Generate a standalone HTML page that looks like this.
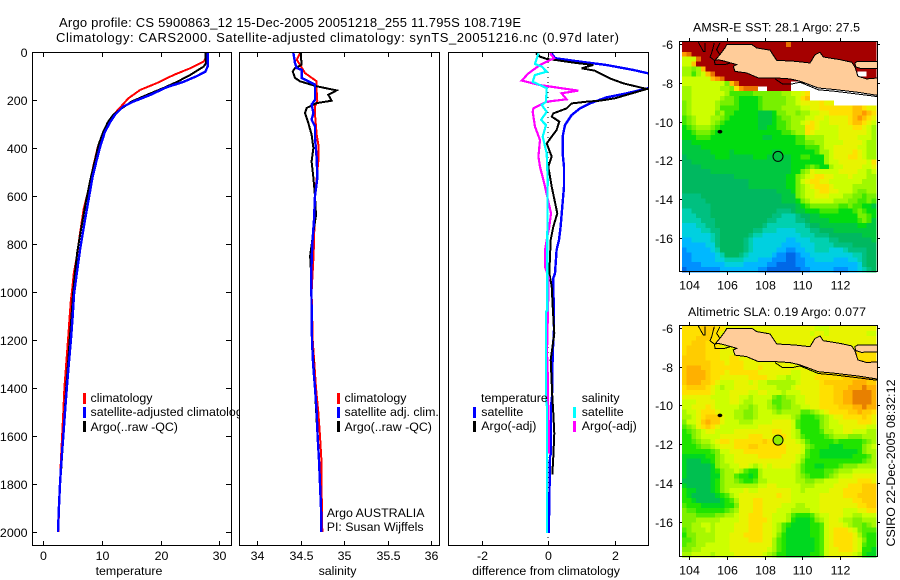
<!DOCTYPE html>
<html lang="en">
<head>
<meta charset="utf-8">
<title>Argo profile</title>
<style>
html,body{margin:0;padding:0;background:#fff;width:900px;height:580px;overflow:hidden}
svg{display:block}
text{font-family:"Liberation Sans",sans-serif;font-size:12.4px;fill:#000}
</style>
</head>
<body>
<svg id="chart" xmlns="http://www.w3.org/2000/svg" width="900" height="580" viewBox="0 0 900 580">
<defs>
<clipPath id="clip-p1"><rect x="32" y="52" width="200" height="494"/></clipPath>
<clipPath id="clip-p2"><rect x="239" y="52" width="201" height="494"/></clipPath>
<clipPath id="clip-p3"><rect x="448" y="52" width="201" height="494"/></clipPath>
<clipPath id="clip-m1"><rect x="680" y="42" width="197" height="230"/></clipPath>
<clipPath id="clip-m2"><rect x="680" y="326" width="197" height="231"/></clipPath>
</defs>
<rect width="900" height="580" fill="#fff"/>
<text x="59" y="27" style="font-size:13px" textLength="462">Argo profile: CS 5900863_12 15-Dec-2005 20051218_255 11.795S 108.719E</text>
<text x="56" y="42" style="font-size:13px" textLength="563">Climatology: CARS2000. Satellite-adjusted climatology: synTS_20051216.nc (0.97d later)</text>

<g id="p1">
<g id="p1-series" clip-path="url(#clip-p1)" shape-rendering="crispEdges"></g>
<g>
<rect x="83" y="393" width="3" height="11" fill="#f00"/>
<text x="90.5" y="402">climatology</text>
<rect x="83" y="407" width="3" height="11" fill="#00f"/>
<text x="90.5" y="416">satellite-adjusted climatology</text>
<rect x="83" y="421" width="3" height="11" fill="#000"/>
<text x="90.5" y="431">Argo(..raw -QC)</text>
</g>
</g>

<g id="p2">
<rect x="239" y="52" width="201" height="494" fill="#fff"/>
<g id="p2-series" clip-path="url(#clip-p2)" shape-rendering="crispEdges"></g>
<g>
<rect x="337" y="393" width="3" height="11" fill="#f00"/>
<text x="344.5" y="402">climatology</text>
<rect x="337" y="407" width="3" height="11" fill="#00f"/>
<text x="344.5" y="416">satellite adj. clim.</text>
<rect x="337" y="421" width="3" height="11" fill="#000"/>
<text x="344.5" y="431">Argo(..raw -QC)</text>
<text x="326.7" y="517">Argo AUSTRALIA</text>
<text x="326.7" y="531">PI: Susan Wijffels</text>
</g>
</g>

<g id="p3">
<g id="p3-series" clip-path="url(#clip-p3)" shape-rendering="crispEdges"></g>
<g>
<text x="481" y="402">temperature</text>
<rect x="473" y="407" width="3" height="11" fill="#00f"/>
<text x="481.3" y="416">satellite</text>
<rect x="473" y="421" width="3" height="11" fill="#000"/>
<text x="481.3" y="430">Argo(-adj)</text>
<text x="581.7" y="402">salinity</text>
<rect x="573" y="407" width="3" height="11" fill="#0ff"/>
<text x="581.7" y="416">satellite</text>
<rect x="573" y="421" width="3" height="11" fill="#f0f"/>
<text x="581.7" y="430">Argo(-adj)</text>
</g>
</g>

<g id="m1"></g>
<g id="m2"></g>
<text x="693" y="31.5" textLength="167">AMSR-E SST: 28.1 Argo: 27.5</text>
<text x="688" y="316" textLength="178">Altimetric SLA: 0.19 Argo: 0.077</text>
<text transform="translate(895,546.5) rotate(-90)" textLength="167">CSIRO 22-Dec-2005 08:32:12</text>
</svg>

<script>
// ---- axis ticks ----
const depthTicks = [0,200,400,600,800,1000,1200,1400,1600,1800,2000];
const tempTicks = [0,10,20,30];
const salTicks = [34,34.5,35,35.5,36];
const diffTicks = [-2,0,2];
const lonTicks = [104,106,108,110,112];
const latTicks = [-6,-8,-10,-12,-14,-16];

// ---- temperature profiles ----
const tempClimDepth = [0,25,40,68,96,130,158,193,228,255,297,353,394,478,575,651,756,853,922,992,1033,1100,1200,1300,1400,1500,1600,1700,1800,1900,2000];
const tempClimValue = [27.8,27.7,27.3,25,22.2,19.3,16.5,14.5,13.2,12.2,11.1,10,9.3,8.5,7.7,6.9,6.25,5.7,5.2,4.9,4.7,4.5,4.2,3.9,3.6,3.4,3.2,3,2.85,2.7,2.55];
const tempArgoDepth = [0,47,61,96,124,151,179,207,236,262,292,333,387,450,533,617,728,833,917,1000,1100,1200,1300,1400,1500,1600,1700,1760];
const tempArgoValue = [27.6,27.7,27.3,25,22.8,20.4,17.6,15,13.3,11.9,11,10.2,9.4,8.8,8,7.3,6.5,5.8,5.4,5.1,4.8,4.5,4.2,3.9,3.65,3.4,3.15,3];
const tempSatDepth = [0,60,82,100,124,147,179,207,228,262,292,333,394,450,519,617,714,825,922,1006,1100,1200,1300,1400,1500,1600,1700,1800,1900,2000];
const tempSatValue = [28,28,27.6,26.2,23.9,21,18.2,15.3,13.6,12.2,11.4,10.5,9.7,9.1,8.4,7.7,7,6.25,5.7,5.25,5,4.7,4.35,4,3.7,3.4,3.1,2.85,2.65,2.5];

// ---- salinity profiles ----
const salClimDepth = [4,32,53,88,122,164,205,226,261,344,386,456,525,600,800,860,1000,1200,1300,1400,1500,1600,1700,1800,1900,2000];
const salClimValue = [34.494,34.456,34.494,34.552,34.686,34.686,34.693,34.667,34.667,34.686,34.705,34.705,34.686,34.667,34.655,34.648,34.628,34.64,34.66,34.678,34.705,34.724,34.74,34.74,34.747,34.751];
const salArgoDepth = [4,53,67,81,108,122,143,160,178,203,213,219,233,254,296,344,400,456,525,600,680,750,850,900,1000,1200,1400,1600,1760];
const salArgoValue = [34.502,34.513,34.437,34.41,34.437,34.494,34.686,34.916,34.82,34.858,34.686,34.648,34.571,34.552,34.59,34.628,34.648,34.628,34.648,34.667,34.678,34.648,34.61,34.618,34.625,34.635,34.665,34.695,34.72];
const salSatDepth = [4,46,67,74,108,136,199,219,254,282,310,358,442,525,600,700,800,900,1000,1200,1300,1400,1500,1600,1700,1800,1900,2000];
const salSatValue = [34.418,34.437,34.456,34.513,34.513,34.667,34.667,34.628,34.648,34.628,34.667,34.667,34.686,34.693,34.667,34.655,34.636,34.625,34.625,34.632,34.645,34.667,34.686,34.697,34.713,34.724,34.736,34.74];

// ---- differences from climatology ----
const diffTempSatDepth = [6,26,40,54,75,89,120,151,172,189,214,235,263,304,353,422,478,561,644,728,783,825,922,943,1158,1255,1436,1478,1672,1686,1880,2005];
const diffTempSatValue = [0.11,0.21,0.96,1.76,2.57,3.02,4,3.02,2.37,1.76,1.26,0.96,0.71,0.51,0.44,0.44,0.48,0.48,0.43,0.38,0.33,0.26,0.21,0.16,0.18,0.14,0.12,0.09,0.09,0.06,0.04,0.02];
const diffTempArgoDepth = [6,19,29,33,44,54,68,78,110,131,154,193,203,207,214,235,256,269,290,325,381,436,478,561,672,728,783,922,977,1061,1172,1283,1436,1505,1589,1686,1760];
const diffTempArgoValue = [-0.36,-0.24,-0.04,0.21,0.76,1.36,1.01,1.41,1.86,2.27,2.97,2.01,1.56,1.16,0.71,0.56,0.16,0.11,0.34,0.26,-0.04,0.11,0.01,0.11,0.28,0.16,0.08,0.04,0.11,0.14,0.19,0.08,0.13,0.16,0.19,0.16,0.13];
const diffSalArgoDepth = [6,26,54,89,119,138,161,172,197,207,235,249,311,367,436,478,561,672,728,783,825,894,940,1250,1340,1450,1540,1672];
const diffSalArgoValue = [0.06,0.18,-0.24,-0.59,-0.79,-0.24,0.91,0.41,0.56,-0.04,-0.44,-0.46,-0.39,-0.24,-0.29,-0.24,-0.09,0.09,0.04,-0.04,-0.09,-0.09,0.02,-0.03,-0.01,0,0.02,0.02];
const diffSalSatDepth = [6,50,61,82,96,124,138,151,207,221,249,283,304,353,422,533,783,1078,1081,1450,1478,2005];
const diffSalSatValue = [-0.29,-0.39,-0.19,-0.04,-0.39,-0.46,-0.24,-0.04,-0.06,-0.19,-0.04,-0.21,-0.06,-0.16,-0.04,-0.01,-0.02,-0.02,-0.06,-0.06,-0.03,-0.03];

// ---- map colour scales (level 0..i, "." = no data) ----
const sstColors = ['#0068e8','#0090ff','#00b8ff','#00d0e0','#00d0b0','#00c080','#00b860','#00c840','#00dc10','#40e800','#78f000','#a0f800','#ccff00','#e8f400','#ffe000','#ffc000','#ff9800','#e87000','#a50000'];
const slaColors = ['#0068e8','#0090ff','#00b8ff','#00d0e0','#00d0b0','#00c080','#00c050','#00d820','#20e400','#50ec00','#80f000','#a8f800','#ccff00','#e8f400','#ffe000','#ffcc00','#ffb000','#e88000','#a50000'];

// ---- SST levels, one string per 0.25 degree latitude row ----
const sstRows = [
"iiiiiiiiiiiiiiiiiiiiiihiiiiiiiiiiiiiiiiii",
"iiiiiiiiiiiiiiiiiiiiiiiiiiiiiiiiiiiiiiiii",
"ghiiiiiiiiiiiiiiiiiiiiiiiiiiiiiiiiiiiiiii",
"ccchiiiiiiiiiiiiiiiiiiiiiiiiiiiiiiiiiiiii",
"ccfiiiiiiiiiiiiiiiiiiiiiiiiiiiiiiiiiiiiii",
"bbabfiiiiiiiiiiiiiiiiiiiiiiiiiiiiiiiiiiii",
"bb9bcfhiiiiiiiiiiiiiiiiiiiiiiiiiiiiii..ii",
"ccccccfghiiiiiiiiiiiiiiiiiiiiiiiiiiiiiiii",
"cccccccccafhiiiiiiiiiii..................",
"bbccccccbbaeghhh..iiiii..................",
"bbcccccccb99999aaaaaabbccde..............",
"bbccccccbaa988889aaaaabbcef..............",
"abcccccbaaa988889aaaaabbcddddedd.........",
"abcccccb999988889aaaabbbbccddeeeeeeeffedd",
"abcccccab99888887778aabbabbccddeeeeeffgfe",
"9abcccbba98888887778" + "9aabbbccdd" + "cddddefgfed",
"9abcccba988888887778" + "99abbcdedc" + "cddddeffedc",
"89abbba9888888887788" + "99abbbeedc" + "cccdddeedcb",
"889aaa98888888888888" + "899abbedcc" + "cccddddddcb",
"88899988888888888778" + "888899bbbb" + "cccddddcccb",
"77888888888888888888" + "888899aabb" + "ccccddddcbb",
"77778888888888888888" + "888888999b" + "ccdddddccbb",
"77777788887888888887" + "788888889b" + "bcddddedcbb",
"67777778887777788877" + "7778899888" + "bcdddeedcbb",
"66777777777777777777" + "7778888888" + "bccddddddce",
"66667777777777777777" + "7778889a98" + "8bccddddccd",
"66666677777777777777" + "77788abdcc" + "cccddddccbc",
"66666666666777777777" + "7788abcdee" + "ddcccdcccbb",
"66666666666666777777" + "7788acdeed" + "dcccccccbbb",
"66666666666666777777" + "7788abcdee" + "edccccbbbbb",
"66666666666666666666" + "7778abccde" + "eddcccbaabb",
"55556666666666666666" + "6777abccdd" + "dcccbbaa9aa",
"55555666666666666666" + "67778abccc" + "ccbbbaa99a9",
"55555566666666666666" + "6666789aaa" + "aaa99a99887",
"44555566666666666666" + "5556778889" + "9998889a988",
"44455566666666666665" + "5444566778" + "8888888aa98",
"44445556666666666655" + "4444556777" + "78888889a97",
"33344556666666666544" + "4444445667" + "77777778877",
"33334455666666655444" + "3333444556" + "66777777777",
"33333345666666544333" + "3333344455" + "56666666777",
"22333345666665433333" + "3322333444" + "45566666667",
"22222335666665433333" + "3222233344" + "44555566666",
"12222234666665433333" + "2211223344" + "43334555566",
"11222223466654333332" + "1100122333" + "33333344566",
"11222223344443332221" + "1100112233" + "33222334566",
"11112222233332222211" + "0000112222" + "22222223566",
"01111111222222221100" + "0000011222" + "22111223456"
];

// ---- altimetric SLA levels ----
const slaRows = [
"eeeefffeeddddddddddd" + "ddddddddcc" + "cdddddddddd",
"eeeeffeedddddddddddd" + "dddddddcdd" + "cddddddddcc",
"eeefffeedddddddddddd" + "dddddddddd" + "ddddddddddd",
"eefffeeedddddddddddd" + "dddddddddd" + "ddddddddddd",
"effffeeedddddddddddd" + "dddddddddd" + "ddddddddddd",
"effffeeedddddddddddd" + "dddddddddd" + "ddddeefeeee",
"fffffeeeddeedddddddd" + "dddddddddd" + "dddddefeeee",
"ffffffeeedeeeddddddd" + "dddddddddd" + "dddddeeefff",
"fgggffeeeeeeedddeddd" + "dddddddddd" + "dddddddeeff",
"fggggfeeedeeeeeedddd" + "dddccdddde" + "eeeeeeeffff",
"fggggfeeddddddeeeedd" + "ccbccdddee" + "eeeeffffggf",
"fgggffedcccdddcdccbb" + "bbbbcdddde" + "ffffffgggff",
"effffedcbccdddddcccc" + "bbbcddddde" + "eefffggghgg",
"eeeeeedcccddddccddcc" + "cbcccdddde" + "eeffgghhhhg",
"ddddddccccddccbcccca" + "9abbccddde" + "eeffgghhhhg",
"cccddddcccddcbbcccb9" + "9aabccddde" + "eeffgghhhhg",
"ccdddedcccccbbabccba" + "9aabbccdde" + "eeefffgghgg",
"bccdeeedcccbbaabcccb" + "abbbb99abc" + "deeeeffgffe",
"bbcdefffdccbbaabcccc" + "cccba8889a" + "bcddeeeefed",
"accdfgffdcccbbbccccd" + "dddc98888a" + "bccddddeeed",
"9abdefedccccccccdddd" + "dddc98888a" + "bcccdddddcc",
"89abcddccccdddddddde" + "eddcb88889" + "bbccddcccbb",
"88abccccddddddeeeddd" + "eedcb98888" + "9abbbaaabbb",
"889abbcdeedeeeeeefee" + "edddcb9888" + "889888889ab",
"8889aabcdddeeeffeeee" + "eedddca988" + "87778888abc",
"8888889accdddeeeeeee" + "eedddc9887" + "77777778abb",
"7777788abccdddddeeee" + "edddcb9887" + "7777778889b",
"7666778abccddddddddd" + "ddddca8888" + "888888889ab",
"7666667abbccddcbcdcd" + "dddcb98877" + "8889aaabbbb",
"76666678abbcb988bccc" + "ccccb98888" + "99abbbccccc",
"76666677abb98878bccc" + "ccccba9888" + "9abcccddddd",
"66666678abba9889bbcc" + "ccccbbaabb" + "cccddddeeed",
"76666678abbbbbbbccdd" + "cccccbbbcc" + "ccdddeeefff",
"87766678abcccdccdddd" + "dddccbcccc" + "cdddeeeefff",
"8766666789bcdddddddd" + "eddccccccd" + "ddddeeeffff",
"88766666789bdddeeddd" + "dddccccccd" + "ddddddeefff",
"98887777788adddeeddd" + "dcccbbcccd" + "dddddddeeff",
"a998888889abdddeeddd" + "cccbbbbccd" + "ddddcccddee",
"aaa9999aabbcddeeeddc" + "ccb98889bc" + "cdddccbbccc",
"aaabbbbbccccddeeeedc" + "ccb87778ab" + "cddcbbaabbb",
"aabbccbccccdddeeeddc" + "b987777889" + "cdddcbaa9ab",
"9abbbcbccccdddeeeddc" + "b977777889" + "cdeeedca999",
"8aabbbbcccdddeeeeddc" + "a877777889" + "cdeeeedb988",
"99abbbbcccddddeeeddb" + "9877777789" + "cdeeeedca88",
"9aabbcccccdddddddddb" + "9877777789" + "cdeeeedc988",
"aabbccccccddddddddcb" + "9877777789" + "cddeeedc887",
"bbccccbccccddddddcba" + "8877777889" + "cdddddcb877"
];

// ---- coastlines (degrees) ----
const javaLon = [105.90,105.99,107.33,107.58,108.29,108.65,109.62,110.42,110.69,110.95,111.13,112.02,112.64,112.81,112.97,113.43,114.09,114.09,112.97,111.75,110.86,109.89,109.36,108.56,107.67,107.05,106.43,106.34,106.52,105.90,105.54,105.37,105.62];
const javaLat = [-6.20,-6.03,-6.03,-6.20,-6.32,-6.84,-6.89,-6.98,-6.55,-6.43,-6.67,-6.81,-6.94,-7.18,-7.66,-7.80,-7.75,-8.66,-8.49,-8.35,-8.27,-7.92,-7.80,-7.75,-7.75,-7.49,-7.41,-7.15,-7.06,-6.89,-6.81,-6.84,-6.55];
const maduraLon = [112.81,112.95,114.09,114.09,113.15,112.85];
const maduraLat = [-6.98,-6.89,-6.89,-7.25,-7.27,-7.18];
const southLoopLon = [108.56,108.95,109.5,109.89,110.86,111.75,112.97,114.09];
const southLoopLat = [-7.80,-8.05,-8.05,-7.97,-8.36,-8.44,-8.58,-8.72];
const islet1Lon = [104.48,104.75,104.84,104.84];
const islet1Lat = [-5.91,-6.38,-6.38,-5.95];
const islet2Lon = [105.33,105.19,105.10,105.33,105.37,105.90,106.17];
const islet2Lat = [-5.95,-6.46,-6.67,-6.84,-7.06,-7.06,-6.98];
const islet3Lon = [105.63,105.45,105.63];
const islet3Lat = [-5.95,-6.29,-6.55];
const floatLon = [108.719];
const floatLat = [-11.795];
const christmasLon = [105.63];
const christmasLat = [-10.52];

// ---- axis functions ----
const depthY = d => 52 + 0.24 * d;
const tempX = v => 43.3 + 5.87 * v;
const salX = v => 257 + (v - 34) * 87;
const diffX = v => 548 + 33.25 * v;
const lonX = v => 689.3 + (v - 104) * 18.8;
const lat1Y = v => 44 + (-6 - v) * 19.4;
const lat2Y = v => 327.7 + (-6 - v) * 19.4;

const NS = 'http://www.w3.org/2000/svg';
function mk(parent, tag) {
  const el = document.createElementNS(NS, tag);
  parent.appendChild(el);
  return el;
}
function profile(parent, depth, value, xFn, color, width, name) {
  const el = mk(parent, 'polyline');
  
  
  el.setAttribute('points', depth.map((d, i) => xFn(value[i]).toFixed(1) + ',' + depthY(d).toFixed(1)).join(' '));
  el.setAttribute('fill', 'none');
  el.setAttribute('stroke', color);
  el.setAttribute('stroke-width', width);
}
function tickLine(parent, x1, y1, x2, y2) {
  const el = mk(parent, 'line');
  
  
  el.setAttribute('x1', x1);
  el.setAttribute('y1', y1);
  el.setAttribute('x2', x2);
  el.setAttribute('y2', y2);
  el.setAttribute('stroke', '#000');
  el.setAttribute('shape-rendering', 'crispEdges');
}
function tickText(parent, x, y, anchor, label) {
  const el = mk(parent, 'text');
  
  
  el.setAttribute('x', x);
  el.setAttribute('y', y);
  el.setAttribute('text-anchor', anchor);
  el.textContent = label;
}
function frame(parent, x, y, w, h) {
  const el = mk(parent, 'rect');
  
  
  el.setAttribute('x', x);
  el.setAttribute('y', y);
  el.setAttribute('width', w);
  el.setAttribute('height', h);
  el.setAttribute('fill', 'none');
  el.setAttribute('stroke', '#000');
  el.setAttribute('shape-rendering', 'crispEdges');
}
function axisTitle(parent, x, label) {
  const el = mk(parent, 'text');
  
  
  el.setAttribute('x', x);
  el.setAttribute('y', 575);
  el.setAttribute('text-anchor', 'middle');
  el.textContent = label;
}
function profileAxes(parent, left, right, ticks, xFn, title, titleX) {
  frame(parent, left + 0.5, 52.5, right - left, 493);
  ticks.forEach(t => {
    const x = Math.round(xFn(t)) + 0.5;
    tickLine(parent, x, 52, x, 57);
    tickLine(parent, x, 541, x, 545);
    tickText(parent, x, 560, 'middle', String(t));
  });
  axisTitle(parent, titleX, title);
}
function coast(parent, lons, lats, latFn, fill, closed, name) {
  const el = mk(parent, closed ? 'polygon' : 'polyline');
  
  
  el.setAttribute('points', lons.map((v, i) => lonX(v).toFixed(1) + ',' + latFn(lats[i]).toFixed(1)).join(' '));
  el.setAttribute('fill', fill);
  el.setAttribute('stroke', '#000');
  el.setAttribute('stroke-width', '1');
  el.setAttribute('shape-rendering', 'crispEdges');
}
function drawMap(parent, rows, colors, latFn, top, bottom, clipId, floatFill, prefix) {
  const field = mk(parent, 'g');
  
  
  field.setAttribute('shape-rendering', 'crispEdges');
  const lonStart = 103.61, lonStep = 0.252, latStep = (bottom - top) / rows.length / 19.4;
  const latStart = -6 - (top - latFn(-6)) / 19.4;
  rows.forEach((row, r) => {
    [...row].forEach((ch, c) => {
      if (ch === '.') return;
      const cell = mk(field, 'rect');
      
      
      const x0 = lonX(lonStart + c * lonStep), x1 = lonX(lonStart + (c + 1) * lonStep);
      const y0 = latFn(latStart - r * latStep), y1 = latFn(latStart - (r + 1) * latStep);
      cell.setAttribute('x', x0.toFixed(2));
      cell.setAttribute('y', y0.toFixed(2));
      cell.setAttribute('width', (x1 - x0 + 0.3).toFixed(2));
      cell.setAttribute('height', (y1 - y0 + 0.3).toFixed(2));
      cell.setAttribute('fill', colors[parseInt(ch, 36)]);
    });
  });
  const land = mk(parent, 'g');
  
  
  land.setAttribute('clip-path', 'url(#' + clipId + ')');
  coast(land, southLoopLon, southLoopLat, latFn, 'none', false, 'south-coast-line');
  coast(land, javaLon, javaLat, latFn, '#ffcc99', true, 'java-island');
  coast(land, maduraLon, maduraLat, latFn, '#ffcc99', true, 'madura-island');
  coast(land, islet1Lon, islet1Lat, latFn, 'none', false, 'west-coast-line');
  coast(land, islet2Lon, islet2Lat, latFn, 'none', false, 'sunda-coast-line');
  coast(land, islet3Lon, islet3Lat, latFn, 'none', false, 'sumatra-coast-line');
  const isle = mk(parent, 'ellipse');
  
  
  isle.setAttribute('cx', lonX(christmasLon[0]));
  isle.setAttribute('cy', latFn(christmasLat[0]));
  isle.setAttribute('rx', 2.4);
  isle.setAttribute('ry', 1.8);
  isle.setAttribute('fill', '#000');
  const dot = mk(parent, 'circle');
  
  
  dot.setAttribute('cx', lonX(floatLon[0]));
  dot.setAttribute('cy', latFn(floatLat[0]));
  dot.setAttribute('r', 5);
  dot.setAttribute('fill', floatFill);
  dot.setAttribute('stroke', '#000');
  frame(parent, 679.5, top - 0.5, 198, bottom - top);
  lonTicks.forEach(t => {
    const x = Math.round(lonX(t)) + 0.5;
    tickLine(parent, x, top - 4, x, top - 1);
    tickLine(parent, x, bottom, x, bottom + 3);
    tickText(parent, x, bottom + 17.5, 'middle', String(t));
  });
  latTicks.forEach(t => {
    const y = Math.round(latFn(t)) + 0.5;
    tickLine(parent, 679, y, 682, y);
    tickLine(parent, 877, y, 880, y);
    tickText(parent, 673, y + 4.3, 'end', String(t));
  });
}

// ---- draw profile panels ----
const p1s = document.getElementById('p1-series');
profile(p1s, tempClimDepth, tempClimValue, tempX, '#f00', 2, 'temperature-climatology-line');
profile(p1s, tempArgoDepth, tempArgoValue, tempX, '#000', 2, 'temperature-argo-line');
profile(p1s, tempSatDepth, tempSatValue, tempX, '#00f', 2.4, 'temperature-satellite-line');
const p2s = document.getElementById('p2-series');
profile(p2s, salClimDepth, salClimValue, salX, '#f00', 2, 'salinity-climatology-line');
profile(p2s, salArgoDepth, salArgoValue, salX, '#000', 2, 'salinity-argo-line');
profile(p2s, salSatDepth, salSatValue, salX, '#00f', 2.4, 'salinity-satellite-line');
const p3s = document.getElementById('p3-series');
const zero = mk(p3s, 'line');


zero.setAttribute('x1', diffX(0));
zero.setAttribute('x2', diffX(0));
zero.setAttribute('y1', depthY(0));
zero.setAttribute('y2', depthY(2030));
zero.setAttribute('stroke', '#000');
zero.setAttribute('stroke-dasharray', '1 4');
profile(p3s, diffTempSatDepth, diffTempSatValue, diffX, '#00f', 2.4, 'diff-temp-satellite-line');
profile(p3s, diffTempArgoDepth, diffTempArgoValue, diffX, '#000', 2, 'diff-temp-argo-line');
profile(p3s, diffSalArgoDepth, diffSalArgoValue, diffX, '#f0f', 2.2, 'diff-sal-argo-line');
profile(p3s, diffSalSatDepth, diffSalSatValue, diffX, '#0ff', 2.2, 'diff-sal-satellite-line');

const p1 = document.getElementById('p1');
profileAxes(p1, 32, 231, tempTicks, tempX, 'temperature', 129);
depthTicks.forEach(d => {
  const y = Math.round(depthY(d)) + 0.5;
  tickLine(p1, 32, y, 37, y);
  tickLine(p1, 226, y, 231, y);
  tickText(p1, 27.5, y + 4.3, 'end', String(d));
});
profileAxes(document.getElementById('p2'), 239, 439, salTicks, salX, 'salinity', 337.5);
profileAxes(document.getElementById('p3'), 448, 648, diffTicks, diffX, 'difference from climatology', 546);

// ---- draw maps ----
drawMap(document.getElementById('m1'), sstRows, sstColors, lat1Y, 42, 272, 'clip-m1', '#00c040', 'sst');
drawMap(document.getElementById('m2'), slaRows, slaColors, lat2Y, 326, 557, 'clip-m2', '#90ec00', 'sla');
</script>
</body>
</html>
